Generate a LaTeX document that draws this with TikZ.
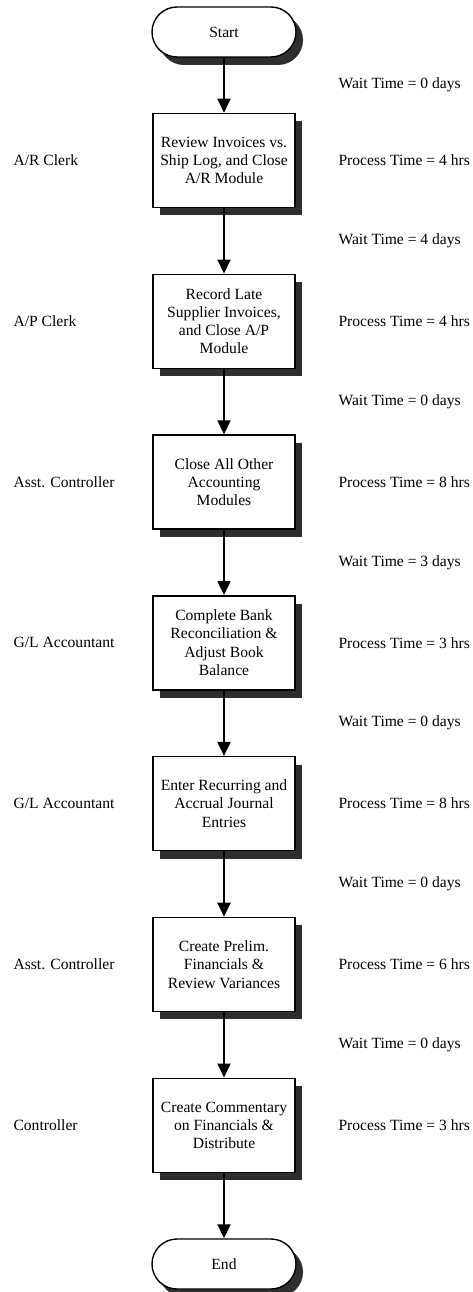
\documentclass[tikz,border=0pt]{standalone}
\usepackage{fontspec}
\setmainfont{Liberation Serif}
\usetikzlibrary{arrows.meta,positioning,shadows,calc}

\begin{document}
\begin{tikzpicture}[font=\fontsize{15.6}{18.3}\selectfont,node distance=65.4pt,
  stepbox/.style={draw,line width=1.4pt,fill=white,minimum width=142pt,minimum height=94pt,
    align=center,inner sep=2pt,
    drop shadow={shadow xshift=7pt,shadow yshift=-8pt,fill=black!82,opacity=1}},
  termbox/.style={stepbox,minimum width=144pt,minimum height=50pt,rounded corners=25pt},
  flow/.style={-{Triangle[length=14pt,width=13pt]},line width=2pt}]
\useasboundingbox (0,0) rectangle (472pt,-1292pt);
\coordinate (lm) at (10pt,0);
\coordinate (rm) at (335pt,0);

% process chain
\node[termbox] (start) at (224pt,-32pt) {Start};
\node[stepbox,below=55pt of start] (s1) {Review Invoices vs.\\Ship Log, and Close\\A/R Module};
\node[stepbox,below=of s1] (s2) {Record Late\\Supplier Invoices,\\and Close A/P\\Module};
\node[stepbox,below=of s2] (s3) {Close All Other\\Accounting\\Modules};
\node[stepbox,below=of s3] (s4) {Complete Bank\\Reconciliation \&\\Adjust Book\\Balance};
\node[stepbox,below=of s4] (s5) {Enter Recurring and\\Accrual Journal\\Entries};
\node[stepbox,below=of s5] (s6) {Create Prelim.\\Financials \&\\Review Variances};
\node[stepbox,below=of s6] (s7) {Create Commentary\\on Financials \&\\Distribute};
\node[termbox,below=of s7] (end) {End};

% arrows and wait times between steps
\foreach \a/\b/\d [count=\i from 0] in {start/s1/0,s1/s2/4,s2/s3/0,s3/s4/3,s4/s5/0,s5/s6/0,s6/s7/0}{
  \draw[flow] (\a) -- (\b);
  \node[anchor=west] (w\i) at ($(\a.south)!.5!(\b.north)+(111pt,0)$) {Wait Time = \d{} days};
}
\draw[flow] (s7) -- (end);

% who does it, and how long
\foreach \s/\who/\h in {s1/{A/R Clerk}/4,s2/{A/P Clerk}/4,s3/{Asst. Controller}/8,
    s4/{G/L Accountant}/3,s5/{G/L Accountant}/8,s6/{Asst. Controller}/6,s7/{Controller}/3}{
  \node[anchor=west] (r\s) at (lm |- \s) {\who};
  \node[anchor=west] (p\s) at (rm |- \s) {Process Time = \h{} hrs};
}
\end{tikzpicture}
\end{document}
